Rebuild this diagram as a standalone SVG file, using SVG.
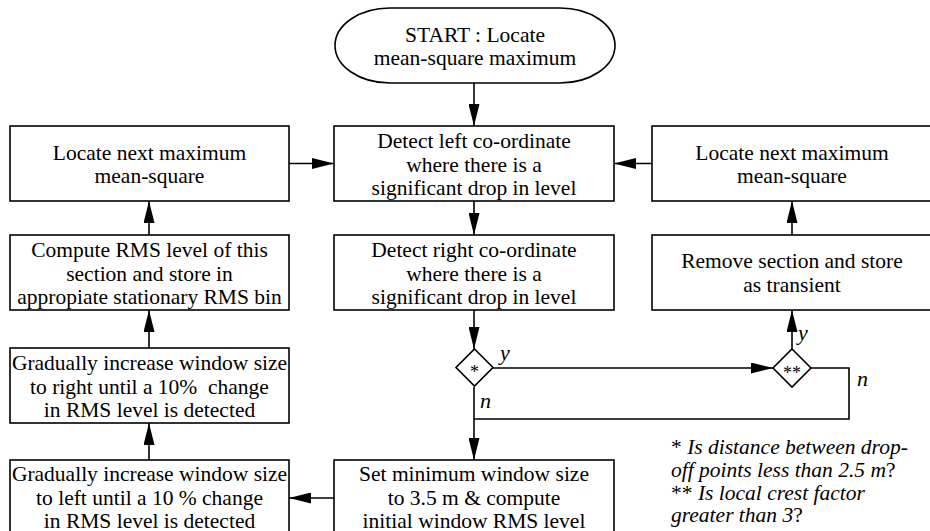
<svg xmlns="http://www.w3.org/2000/svg" width="930" height="531" viewBox="0 0 930 531">
<defs>
<style>
.box{fill:#fff;stroke:#000;stroke-width:1.6}
.t{font-family:"Liberation Serif","Tinos","DejaVu Serif",serif;font-size:21.5px;text-anchor:middle;fill:#000}
.c{fill:none;stroke:#000;stroke-width:1.6}
.lab{font-family:"Liberation Serif","Tinos","DejaVu Serif",serif;font-size:22px;font-style:italic;fill:#000}
.note{font-family:"Liberation Serif","Tinos","DejaVu Serif",serif;font-size:21.5px;font-style:italic;fill:#000}
.up{font-style:normal}
.ast{font-family:"Liberation Serif","Tinos","DejaVu Serif",serif;font-size:18px;text-anchor:middle;fill:#000}
</style>
<marker id="ah" markerUnits="userSpaceOnUse" markerWidth="22" markerHeight="11" refX="22" refY="5.5" orient="auto">
<path d="M0,0 L22,5.5 L0,11 z" fill="#000"/>
</marker>
</defs>
<rect width="930" height="531" fill="#fff"/>

<g id="connectors">
<line class="c" x1="474" y1="83" x2="474" y2="126" marker-end="url(#ah)"/>
<line class="c" x1="474" y1="201" x2="474" y2="235" marker-end="url(#ah)"/>
<line class="c" x1="474" y1="310" x2="474" y2="349" marker-end="url(#ah)"/>
<line class="c" x1="493" y1="368" x2="773" y2="368" marker-end="url(#ah)"/>
<line class="c" x1="792" y1="349" x2="792" y2="310" marker-end="url(#ah)"/>
<line class="c" x1="792" y1="235" x2="792" y2="201" marker-end="url(#ah)"/>
<line class="c" x1="652" y1="163.5" x2="614" y2="163.5" marker-end="url(#ah)"/>
<polyline class="c" points="811,368 849,368 849,419 474,419"/>
<line class="c" x1="474" y1="387" x2="474" y2="460" marker-end="url(#ah)"/>
<line class="c" x1="334" y1="498" x2="289" y2="498" marker-end="url(#ah)"/>
<line class="c" x1="149" y1="460" x2="149" y2="423" marker-end="url(#ah)"/>
<line class="c" x1="149" y1="348" x2="149" y2="310" marker-end="url(#ah)"/>
<line class="c" x1="149" y1="235" x2="149" y2="201" marker-end="url(#ah)"/>
<line class="c" x1="289" y1="163.5" x2="334" y2="163.5" marker-end="url(#ah)"/>
<text class="lab" x="500" y="360">y</text>
<text class="lab" x="480" y="408">n</text>
<text class="lab" x="798" y="340">y</text>
<text class="lab" x="857" y="386">n</text>
</g>

<g id="start">
<rect class="box" x="335" y="8" width="280" height="75" rx="55" ry="37.5"/>
<text class="t" x="475" y="42">START : Locate</text>
<text class="t" x="475" y="65">mean-square maximum</text>
</g>

<g id="detect-left">
<rect class="box" x="334" y="126" width="280" height="75"/>
<text class="t" x="474" y="148">Detect left co-ordinate</text>
<text class="t" x="474" y="172">where there is a</text>
<text class="t" x="474" y="195">significant drop in level</text>
</g>

<g id="detect-right">
<rect class="box" x="334" y="235" width="280" height="75"/>
<text class="t" x="474" y="257">Detect right co-ordinate</text>
<text class="t" x="474" y="281">where there is a</text>
<text class="t" x="474" y="304">significant drop in level</text>
</g>

<g id="locate-left">
<rect class="box" x="10" y="126" width="279" height="75"/>
<text class="t" x="149.5" y="160">Locate next maximum</text>
<text class="t" x="149.5" y="183">mean-square</text>
</g>

<g id="compute-rms">
<rect class="box" x="10" y="235" width="279" height="75"/>
<text class="t" x="149.5" y="257">Compute RMS level of this</text>
<text class="t" x="149.5" y="281">section and store in</text>
<text class="t" x="149.5" y="304">appropiate stationary RMS bin</text>
</g>

<g id="increase-right">
<rect class="box" x="10" y="348" width="279" height="75"/>
<text class="t" x="149.5" y="370">Gradually increase window size</text>
<text class="t" x="149.5" y="394">to right until a 10%&#160; change</text>
<text class="t" x="149.5" y="417">in RMS level is detected</text>
</g>

<g id="increase-left">
<rect class="box" x="10" y="460" width="279" height="75"/>
<text class="t" x="149.5" y="481">Gradually increase window size</text>
<text class="t" x="149.5" y="504.5">to left until a 10 % change</text>
<text class="t" x="149.5" y="527.5">in RMS level is detected</text>
</g>

<g id="set-min">
<rect class="box" x="334" y="460" width="280" height="75"/>
<text class="t" x="474" y="481">Set minimum window size</text>
<text class="t" x="474" y="504.5">to 3.5 m &amp; compute</text>
<text class="t" x="474" y="527.5">initial window RMS level</text>
</g>

<g id="locate-right">
<rect class="box" x="652" y="126" width="282" height="75"/>
<text class="t" x="792" y="160">Locate next maximum</text>
<text class="t" x="792" y="183">mean-square</text>
</g>

<g id="remove-transient">
<rect class="box" x="652" y="235" width="282" height="75"/>
<text class="t" x="792" y="268">Remove section and store</text>
<text class="t" x="792" y="292">as transient</text>
</g>

<g id="decision1">
<polygon class="box" points="474.5,349 493,367.5 474.5,386 456,367.5"/>
<text class="ast" x="474.5" y="378">*</text>
</g>

<g id="decision2">
<polygon class="box" points="792,349 811,368 792,387 773,368"/>
<text class="ast" x="792" y="379">**</text>
</g>

<g id="notes">
<text class="note" x="671" y="454"><tspan class="up">*</tspan> Is distance between drop-</text>
<text class="note" x="671" y="477">off points less than 2.5 m<tspan class="up">?</tspan></text>
<text class="note" x="671" y="500"><tspan class="up">**</tspan> Is local crest factor</text>
<text class="note" x="671" y="522">greater than 3<tspan class="up">?</tspan></text>
</g>
</svg>
